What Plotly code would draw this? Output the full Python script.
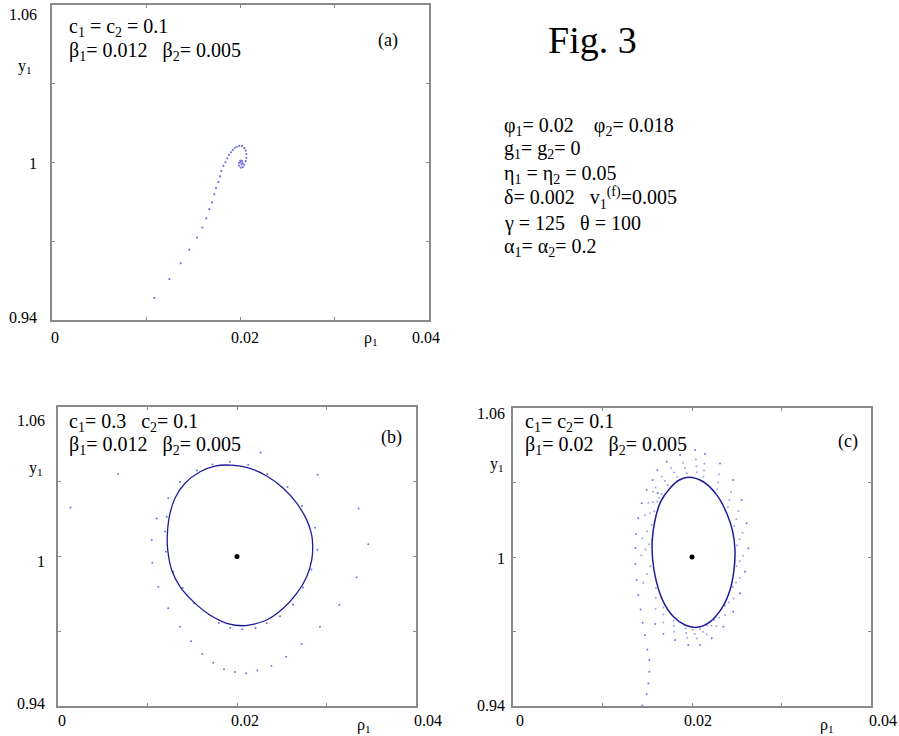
import plotly.graph_objects as go

# ---------------- data ----------------
# panel (a): transient converging to the fixed point
a_rho = [0.01085, 0.01245, 0.01366, 0.01457, 0.01539, 0.01595, 0.01637, 0.01669, 0.01698,
         0.01722, 0.01740, 0.01765, 0.01783, 0.01796, 0.01818, 0.01839, 0.01860, 0.01878,
         0.01899, 0.01917, 0.01939, 0.01960, 0.01987, 0.02016, 0.02040, 0.02055, 0.02062,
         0.02062, 0.02055, 0.02040, 0.02023, 0.02002, 0.01984, 0.01984, 0.01998, 0.02016,
         0.02023, 0.02011, 0.02000]
a_y = [0.9484, 0.9556, 0.9616, 0.9668, 0.9714, 0.9752, 0.9787, 0.9822, 0.9848,
       0.9879, 0.9902, 0.9926, 0.9947, 0.9968, 0.9987, 1.0001, 1.0016, 1.0029,
       1.0039, 1.0048, 1.0055, 1.0060, 1.0063, 1.0062, 1.0055, 1.0045, 1.0032,
       1.0018, 1.0005, 0.9991, 0.9982, 0.9980, 0.9988, 0.9999, 1.0007, 1.0006,
       0.9997, 0.9992, 1.0000]

# panel (b): limit cycle and transient points
b_cycle_rho = [0.01922, 0.02108, 0.02332, 0.02517, 0.02667, 0.02779, 0.02835, 0.02846, 0.02835,
               0.02779, 0.02667, 0.02517, 0.02332, 0.02182, 0.02070, 0.01885, 0.01698, 0.01512,
               0.01363, 0.01270, 0.01226, 0.01221, 0.01244, 0.01307, 0.01419, 0.01587, 0.01754,
               0.01922]
b_cycle_y = [1.0367, 1.0358, 1.0323, 1.0274, 1.0214, 1.0147, 1.0086, 1.0039, 0.9986,
             0.9919, 0.9852, 0.9792, 0.9745, 0.9728, 0.9722, 0.9732, 0.9765, 0.9819,
             0.9879, 0.9946, 1.0026, 1.0080, 1.0160, 1.0234, 1.0294, 1.0340, 1.0363,
             1.0367]
b_trans_rho = [0.0067, 0.0014, 0.01047, 0.01054, 0.01121, 0.01232, 0.01363, 0.01486, 0.01612,
               0.01735, 0.01855, 0.01978, 0.02101, 0.02227, 0.02385, 0.02547, 0.02723, 0.02927,
               0.03143, 0.03337, 0.03467, 0.03358, 0.02902, 0.02263,
               0.01232, 0.01363, 0.01553, 0.01726, 0.01922, 0.02126, 0.02339, 0.02564, 0.02726,
               0.02872, 0.02899, 0.02832, 0.02737, 0.02626, 0.02480, 0.02332, 0.02207, 0.02059,
               0.01925, 0.01796, 0.01520, 0.01393, 0.01288, 0.01207, 0.01196, 0.01215, 0.01103]
b_trans_y = [1.0331, 1.0197, 1.0066, 0.9975, 0.9879, 0.9792, 0.9718, 0.9660, 0.9609,
             0.9574, 0.9547, 0.9536, 0.9531, 0.9542, 0.9561, 0.9598, 0.9649, 0.9718,
             0.9805, 0.9917, 1.0049, 1.0193, 1.0328, 1.0417,
             1.0234, 1.0299, 1.0345, 1.0369, 1.0380, 1.0368, 1.0331, 1.0279, 1.0203,
             1.0115, 1.0027, 0.9948, 0.9876, 0.9807, 0.9760, 0.9732, 0.9713, 0.9708,
             0.9714, 0.9733, 0.9813, 0.9874, 0.9939, 1.0019, 1.0100, 1.0160, 1.0153]

# panel (c): limit cycle, incoming tail / outer ring, and the "hair" points
c_cycle_rho = [0.01959, 0.02126, 0.02276, 0.02388, 0.02455, 0.02480, 0.02469, 0.02425, 0.02332,
               0.02201, 0.02059, 0.01922, 0.01791, 0.01679, 0.01598, 0.01561, 0.01556, 0.01587,
               0.01650, 0.01754, 0.01858, 0.01959]
c_cycle_y = [1.0321, 1.0303, 1.0250, 1.0176, 1.0102, 1.0028, 0.9948, 0.9867, 0.9793,
             0.9739, 0.9717, 0.9726, 0.9760, 0.9820, 0.9907, 0.9988, 1.0068, 1.0149,
             1.0223, 1.0277, 1.0310, 1.0321]
c_trans_rho = [0.01447, 0.01494, 0.01512, 0.01523, 0.01523, 0.01501, 0.01475, 0.01449, 0.01425,
               0.01400, 0.01382, 0.01366, 0.01369, 0.01374, 0.01400, 0.01438, 0.01494, 0.01561,
               0.01612, 0.01717, 0.01866, 0.02034, 0.02145, 0.02313, 0.02461, 0.02555, 0.02611,
               0.02629, 0.02592, 0.02536, 0.02461, 0.02350, 0.02220, 0.02089, 0.01959, 0.01810,
               0.01680, 0.01590]
c_trans_y = [0.9402, 0.9448, 0.9491, 0.9538, 0.9585, 0.9628, 0.9686, 0.9735, 0.9789,
             0.9847, 0.9907, 0.9972, 1.0036, 1.0093, 1.0156, 1.0216, 1.0270, 1.0310,
             1.0350, 1.0384, 1.0411, 1.0431, 1.0415, 1.0377, 1.0310, 1.0230, 1.0136,
             1.0035, 0.9941, 0.9854, 0.9780, 0.9719, 0.9673, 0.9646, 0.9646, 0.9666,
             0.9690, 0.9730]
c_hair_rho = [0.01592, 0.01614, 0.01634, 0.01662, 0.01697, 0.01728, 0.01766, 0.01802, 0.01833,
              0.01899, 0.01922, 0.01942, 0.02043, 0.02049, 0.02055, 0.02138, 0.02134, 0.02129,
              0.02300, 0.02291, 0.02283, 0.02435, 0.02417, 0.02401, 0.02520, 0.02495, 0.02473,
              0.02565, 0.02532, 0.02504, 0.02573, 0.02533, 0.02498, 0.02534, 0.02492, 0.02455,
              0.02465, 0.02414, 0.02369, 0.02370, 0.02305, 0.02248, 0.02273, 0.02218, 0.02170,
              0.02164, 0.02123, 0.02088, 0.02054, 0.02030, 0.02008, 0.01946, 0.01937, 0.01929,
              0.01803, 0.01799, 0.01794, 0.01680, 0.01680, 0.01680, 0.01593, 0.01595, 0.01597,
              0.01456, 0.01497, 0.01532, 0.01433, 0.01480, 0.01522, 0.01445, 0.01500, 0.01548,
              0.01477, 0.01532, 0.01580, 0.01512, 0.01565, 0.01612, 0.01566, 0.01618, 0.01663]
c_hair_y = [1.0280, 1.0258, 1.0239, 1.0324, 1.0306, 1.0290, 1.0358, 1.0340, 1.0323,
            1.0380, 1.0357, 1.0337, 1.0393, 1.0365, 1.0341, 1.0376, 1.0348, 1.0323,
            1.0333, 1.0301, 1.0273, 1.0263, 1.0230, 1.0200, 1.0185, 1.0153, 1.0125,
            1.0098, 1.0071, 1.0047, 1.0005, 0.9983, 0.9964, 0.9915, 0.9897, 0.9880,
            0.9833, 0.9817, 0.9804, 0.9766, 0.9755, 0.9746, 0.9721, 0.9723, 0.9724,
            0.9688, 0.9699, 0.9709, 0.9672, 0.9690, 0.9707, 0.9674, 0.9694, 0.9712,
            0.9699, 0.9722, 0.9743, 0.9736, 0.9768, 0.9797, 0.9792, 0.9836, 0.9875,
            0.9896, 0.9932, 0.9963, 1.0006, 1.0030, 1.0051, 1.0076, 1.0104, 1.0129,
            1.0168, 1.0176, 1.0184, 1.0218, 1.0220, 1.0222, 1.0263, 1.0258, 1.0254]

fixed_rho = [0.02]
fixed_y = [1.0]

x_tick_vals = [0, 0.02, 0.04]
x_tick_text = ["0", "0.02", "0.04"]
y_tick_vals = [0.94, 1.0, 1.06]
y_tick_text = ["0.94", "1", "1.06"]

W, H = 899, 736
FONT = "Liberation Serif"
FRAME = "#8a8a8a"
DOT = "rgba(70,70,210,0.75)"
HAIR = "rgba(100,100,225,0.6)"
LINE = "#1c1c9c"


def px(x):
    return x / W


def py(y):
    return 1 - y / H


fig = go.Figure()

panels = [
    ("a", "x", "y", (52, 429), (5, 320)),
    ("b", "x2", "y2", (58, 416), (407, 706)),
    ("c", "x3", "y3", (513, 871), (408, 706)),
]

fig.add_trace(go.Scatter(x=a_rho, y=a_y, mode="markers", xaxis="x", yaxis="y",
                         marker=dict(size=2.2, color=DOT), hoverinfo="skip"))

fig.add_trace(go.Scatter(x=b_trans_rho, y=b_trans_y, mode="markers", xaxis="x2", yaxis="y2",
                         marker=dict(size=2, color=DOT), hoverinfo="skip"))
fig.add_trace(go.Scatter(x=b_cycle_rho, y=b_cycle_y, mode="lines", xaxis="x2", yaxis="y2",
                         line=dict(color=LINE, width=1.3, shape="spline", smoothing=1.0),
                         hoverinfo="skip"))
fig.add_trace(go.Scatter(x=fixed_rho, y=fixed_y, mode="markers", xaxis="x2", yaxis="y2",
                         marker=dict(size=5, color="black"), hoverinfo="skip"))

fig.add_trace(go.Scatter(x=c_trans_rho, y=c_trans_y, mode="markers", xaxis="x3", yaxis="y3",
                         marker=dict(size=2, color=DOT), hoverinfo="skip"))
fig.add_trace(go.Scatter(x=c_hair_rho, y=c_hair_y, mode="markers", xaxis="x3", yaxis="y3",
                         marker=dict(size=2, color=HAIR), hoverinfo="skip"))
fig.add_trace(go.Scatter(x=c_cycle_rho, y=c_cycle_y, mode="lines", xaxis="x3", yaxis="y3",
                         line=dict(color=LINE, width=1.5, shape="spline", smoothing=1.0),
                         hoverinfo="skip"))
fig.add_trace(go.Scatter(x=fixed_rho, y=fixed_y, mode="markers", xaxis="x3", yaxis="y3",
                         marker=dict(size=5, color="black"), hoverinfo="skip"))

layout = dict(width=W, height=H, margin=dict(l=0, r=0, t=0, b=0),
              paper_bgcolor="white", plot_bgcolor="white", showlegend=False,
              font=dict(family=FONT, color="black"))

for name, xa, ya, (x0, x1), (y0, y1) in panels:
    xk = "xaxis" + xa[1:]
    yk = "yaxis" + ya[1:]
    layout[xk] = dict(domain=[px(x0), px(x1)], range=[0, 0.04], anchor=ya,
                      showgrid=False, zeroline=False, showline=True, mirror="ticks",
                      linecolor=FRAME, linewidth=1.5, ticks="inside", ticklen=3,
                      tickcolor=FRAME, tickvals=[0.01, 0.02, 0.03], showticklabels=False)
    layout[yk] = dict(domain=[py(y1), py(y0)], range=[0.94, 1.06], anchor=xa,
                      showgrid=False, zeroline=False, showline=True, mirror="ticks",
                      linecolor=FRAME, linewidth=1.5, ticks="inside", ticklen=3,
                      tickcolor=FRAME, tickvals=[0.97, 1.0, 1.03], showticklabels=False)

fig.update_layout(**layout)

ann = []
NB = "\u00a0"

# y-label vertical nudges in px (negative = down), x-label horizontal nudges
tick_style = {
    "a": dict(ygap=13, ysh=[2, -1, -10], xsh=[3, 4, -3], xlab_dy=18),
    "b": dict(ygap=11, ysh=[3, -5, -13], xsh=[4, 8, 12], xlab_dy=14),
    "c": dict(ygap=6, ysh=[1, -1, -5], xsh=[7, 6, 12], xlab_dy=14),
}
for name, xa, ya, _, _ in panels:
    st = tick_style[name]
    for v, t, s in zip(y_tick_vals, y_tick_text, st["ysh"]):
        ann.append(dict(x=0, xref=xa + " domain", y=v, yref=ya, text=t, showarrow=False,
                        xanchor="right", yanchor="middle", xshift=-st["ygap"], yshift=s,
                        font=dict(size=16)))
    for v, t, s in zip(x_tick_vals, x_tick_text, st["xsh"]):
        ann.append(dict(x=v, xref=xa, y=0, yref=ya + " domain", text=t, showarrow=False,
                        xanchor="center", yanchor="middle", xshift=s, yshift=-st["xlab_dy"],
                        font=dict(size=16)))

axis_names = [
    ((25, 66), (371, 338)),
    ((36, 468), (364, 725)),
    ((497, 465), (827, 725)),
]
for (yx, yy), (rx, ry) in axis_names:
    ann.append(dict(x=px(yx), y=py(yy), xref="paper", yref="paper", text="y<sub>1</sub>",
                    showarrow=False, xanchor="center", yanchor="middle", font=dict(size=16)))
    ann.append(dict(x=px(rx), y=py(ry), xref="paper", yref="paper", text="ρ<sub>1</sub>",
                    showarrow=False, xanchor="center", yanchor="middle", font=dict(size=16)))

sp3 = NB * 3
panel_text = [
    (67, 27, "c<sub>1</sub> = c<sub>2</sub> = 0.1"),
    (67, 51, "β<sub>1</sub>= 0.012" + sp3 + "β<sub>2</sub>= 0.005"),
    (67, 422, "c<sub>1</sub>= 0.3" + sp3 + "c<sub>2</sub>= 0.1"),
    (67, 445, "β<sub>1</sub>= 0.012" + sp3 + "β<sub>2</sub>= 0.005"),
    (523, 422, "c<sub>1</sub>= c<sub>2</sub>= 0.1"),
    (523, 445, "β<sub>1</sub>= 0.02" + sp3 + "β<sub>2</sub>= 0.005"),
    (502, 126, "φ<sub>1</sub>= 0.02" + NB * 4 + "φ<sub>2</sub>= 0.018"),
    (502, 149, "g<sub>1</sub>= g<sub>2</sub>= 0"),
    (502, 174, "η<sub>1</sub> = η<sub>2</sub> = 0.05"),
    (502, 198, "δ= 0.002" + sp3 + "v<sub>1</sub><sup>(f)</sup>=0.005"),
    (502, 223, "γ = 125" + sp3 + "θ = 100"),
    (502, 247, "α<sub>1</sub>= α<sub>2</sub>= 0.2"),
]
for x, y, t in panel_text:
    ann.append(dict(x=px(x), y=py(y), xref="paper", yref="paper", text=t, showarrow=False,
                    xanchor="left", yanchor="middle", font=dict(size=20)))

for x, y, t in [(388, 41, "(a)"), (391, 437, "(b)"), (848, 442, "(c)")]:
    ann.append(dict(x=px(x), y=py(y), xref="paper", yref="paper", text=t, showarrow=False,
                    xanchor="center", yanchor="middle", font=dict(size=18)))

ann.append(dict(x=px(592), y=py(40), xref="paper", yref="paper", text="Fig. 3",
                showarrow=False, xanchor="center", yanchor="middle", font=dict(size=38)))

fig.update_layout(annotations=ann)
fig.write_html("out.html",
               config={"displayModeBar": False},
               post_script="document.body.style.margin='0';document.body.style.padding='0';"
                           "document.body.style.overflow='hidden';")
